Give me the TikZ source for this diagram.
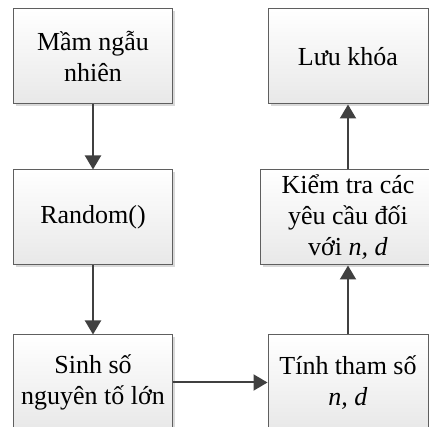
\documentclass[tikz,border=0pt]{standalone}
\usepackage{fontspec}
\setmainfont{Liberation Serif}
\usetikzlibrary{positioning,shadows,arrows.meta}
\definecolor{boxline}{RGB}{95,95,95}
\definecolor{boxshade}{RGB}{232,232,232}
\definecolor{linkgray}{RGB}{64,64,64}

\begin{document}
\begin{tikzpicture}[x=1pt, y=1pt,
  block/.style={draw=boxline, line width=1pt, top color=white, bottom color=boxshade,
    minimum width=158pt, minimum height=95pt, inner sep=0pt, align=center,
    font=\fontsize{26}{31}\selectfont,
    drop shadow={shadow xshift=2.5pt, shadow yshift=-2.5pt, fill=black!15, opacity=1}},
  link/.style={draw=linkgray, line width=2pt, -{Triangle[width=16pt,length=14pt]}}]
  \useasboundingbox (-93,56.5) rectangle +(429,-427);

  % left column, top to bottom
  \node[block] (seed) {Mầm ngẫu\\nhiên};
  \node[block, below=65pt of seed] (rnd) {Random()};
  \node[block, below=69pt of rnd] (prime) {Sinh số\\nguyên tố lớn};

  % right column, bottom to top
  \node[block, minimum width=160pt, right=95pt of prime] (param) {Tính tham số\\\textit{n, d}};
  \node[block, minimum width=176pt, above=69pt of param] (check) {Kiểm tra các\\yêu cầu đối\\với \textit{n, d}};
  \node[block, minimum width=160pt, above=65pt of check] (save) {Lưu khóa};

  \draw[link] (seed) -- (rnd);
  \draw[link] (rnd) -- (prime);
  \draw[link] (prime) -- (param);
  \draw[link] (param) -- (check);
  \draw[link] (check) -- (save);
\end{tikzpicture}
\end{document}
